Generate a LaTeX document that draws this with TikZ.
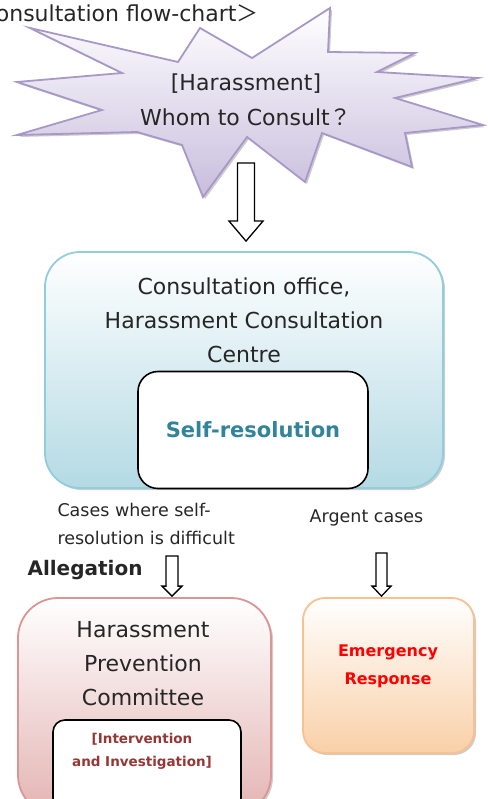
\documentclass[tikz,border=0pt]{standalone}
\usepackage{fontspec}
\setmainfont{DejaVu Sans}
\newfontfamily\cjk{Noto Sans CJK JP}
\usetikzlibrary{calc}
\usetikzlibrary{positioning}
\usetikzlibrary{shadows}
\definecolor{starline}{RGB}{168,152,200}
\definecolor{starfill}{RGB}{200,189,221}
\definecolor{officeline}{RGB}{146,205,220}
\definecolor{officefill}{RGB}{180,218,228}
\definecolor{commline}{RGB}{217,150,148}
\definecolor{commfill}{RGB}{227,180,179}
\definecolor{emerline}{RGB}{250,192,144}
\definecolor{emerfill}{RGB}{249,208,168}
\definecolor{selfteal}{RGB}{49,132,155}
\definecolor{invred}{RGB}{149,55,53}
\tikzset{
	box/.style={draw, line width=1.8pt, rounded corners=#1, inner sep=0pt,
		drop shadow={shadow xshift=2pt, shadow yshift=-2pt, fill=black!40}},
	box/.default=30pt,
	inbox/.style={draw=black, fill=white, line width=1.6pt, rounded corners=#1, inner sep=0pt},
	inbox/.default=16pt,
	txt/.style={text=black!85, align=center, font={\fontsize{22}{34}\selectfont}}
}
% hollow block arrow: from, tip, shaft half width, head half width, head length
\newcommand{\hollowarrow}[5]{%
	\draw[fill=white, line width=1.3pt, line join=miter] ($(#1)+(-#3,0)$) -- ($(#2)+(-#3,-#5)$) -- ($(#2)+(-#4,-#5)$) -- (#2) -- ($(#2)+(#4,-#5)$) -- ($(#2)+(#3,-#5)$) -- ($(#1)+(#3,0)$) -- cycle;}

\begin{document}
\begin{tikzpicture}[x=1pt,y=-1pt]
	\useasboundingbox (0,0) rectangle (487,799);
	\clip (0,0) rectangle (487,799);
	\node[txt, anchor=base east] (title) at (262,22) {Consultation flow-chart{\cjk ＞}};
	% star
	\shade[top color=white, bottom color=starfill, draw=starline, line width=1.8pt, line join=miter,
		drop shadow={shadow xshift=2pt, shadow yshift=-2pt, fill=black!40}]
		(30,28) -- (178,62) -- (200,28) -- (252,58) -- (330,8) -- (328,52) -- (415,53) -- (377,72)
		-- (478,78) -- (395,98) -- (483,125) -- (405,133) -- (412,167) -- (322,133) -- (305,182)
		-- (247,137) -- (203,197) -- (182,145) -- (137,132) -- (17,135) -- (102,110) -- (17,82)
		-- (122,73) -- cycle;
	\node[txt, font={\fontsize{22}{35}\selectfont}] (star) at (246,100) {[Harassment]\\Whom to Consult{\cjk ？}};
	% boxes
	\node[box=35pt, top color=white, bottom color=officefill, draw=officeline, minimum width=398pt, minimum height=236pt] (office) at (244,370) {};
	\node[txt] (officetext) at (244,320) {Consultation office,\\Harassment Consultation\\Centre};
	\node[inbox=20pt, minimum width=230pt, minimum height=117pt, text=selfteal, font={\bfseries\fontsize{21}{25}\selectfont}] (self) at (253,430) {Self-resolution};
	\node[box=40pt, top color=white, bottom color=commfill, draw=commline, minimum width=253pt, minimum height=217pt] (committee) at (144.5,706.5) {};
	\node[txt] (committeetext) at (143,664) {Harassment\\Prevention\\Committee};
	\node[inbox=12pt, minimum width=188pt, minimum height=90pt] (inv) at (147,765) {};
	\node[align=center, text=invred, font={\bfseries\fontsize{13.5}{23}\selectfont}] (invtext) at (142,751.5) {[Intervention\\and Investigation]};
	\node[box=22pt, top color=white, bottom color=emerfill, draw=emerline, minimum width=171pt, minimum height=155pt] (emergency) at (388.5,675.5) {};
	\node[align=center, text=red, font={\bfseries\fontsize{16}{28}\selectfont}] (emertext) at (388,666) {Emergency\\Response};
	% labels
	\node[txt, align=left, anchor=west, font={\fontsize{17.5}{28}\selectfont}] (diff) at (54,524) {Cases where self-\\resolution is difficult};
	\node[txt, font={\fontsize{17.5}{28}\selectfont}] (argent) at (366.5,518) {Argent cases};
	\node[text=black!85, font={\bfseries\fontsize{20}{24}\selectfont}, anchor=west] (allegation) at (24,570) {Allegation};
	% arrows
	\coordinate (star-out) at (246,163);
	\coordinate (office-in) at ($(star-out |- office.north)+(0,-10)$);
	\hollowarrow{star-out}{office-in}{8.5}{17}{20}
	\coordinate (diff-out) at (172,556);
	\coordinate (committee-in) at ($(diff-out |- committee.north)+(0,-1)$);
	\hollowarrow{diff-out}{committee-in}{6}{10}{10}
	\coordinate (argent-out) at (381.5,553);
	\coordinate (emergency-in) at ($(argent-out |- emergency.north)+(0,-1)$);
	\hollowarrow{argent-out}{emergency-in}{5.5}{9.5}{10}
\end{tikzpicture}
\end{document}
